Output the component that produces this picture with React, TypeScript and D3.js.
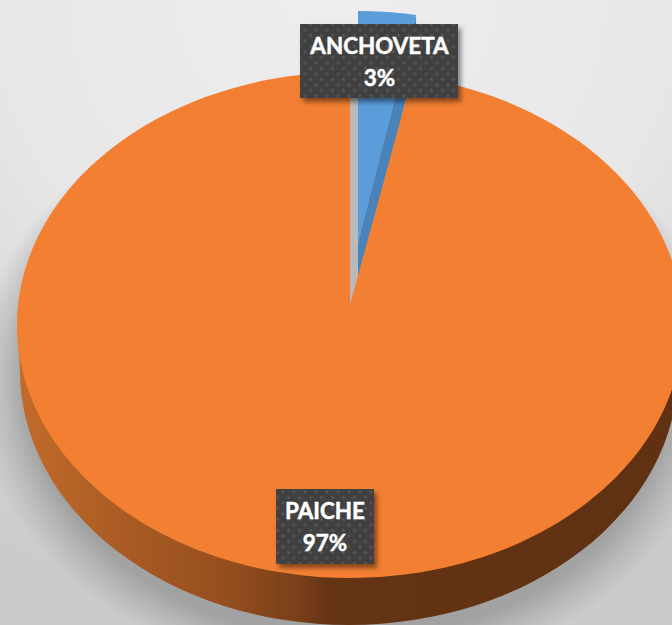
import React from "react";
import * as d3 from "d3";

const categories = ["ANCHOVETA", "PAICHE"];
const shares = [3, 97];

const W = 672, H = 625;
const top = { cx: 350, cy: 325, rx: 333, ry: 253, apexY: 305 };
const bottom = { cx: 349, cy: 371, rx: 329, ry: 254 };
const blue = { cx: 358, cy: 243, rx: 310, ry: 232, depth: 45 };

const pct = d3.format(".0f");
const arcs = d3.pie<number>().sort(null).value((d) => d)(shares);

const pt = (e: { cx: number; cy: number; rx: number; ry: number }, a: number): [number, number] => [
  e.cx + e.rx * Math.sin(a),
  e.cy - e.ry * Math.cos(a),
];

function wedge(e: { cx: number; cy: number; rx: number; ry: number }, apexY: number, a0: number, a1: number) {
  const [x0, y0] = pt(e, a0);
  const [x1, y1] = pt(e, a1);
  const large = a1 - a0 > Math.PI ? 1 : 0;
  return `M${e.cx},${apexY}L${x0},${y0}A${e.rx},${e.ry} 0 ${large} 1 ${x1},${y1}Z`;
}

const sideStops: [number, string][] = [
  [0, "#c26c2b"],
  [0.17, "#a85a23"],
  [0.3, "#98501f"],
  [0.42, "#7a4018"],
  [0.47, "#643414"],
  [1, "#5f3112"],
];

function Label({ x, y, w, h, name, value, cx }: { x: number; y: number; w: number; h: number; name: string; value: number; cx: number }) {
  const textProps = {
    x: cx,
    textAnchor: "middle" as const,
    fontFamily: "Lato, sans-serif",
    fontWeight: 700,
    fontSize: 22.4,
    fill: "#fff",
    stroke: "#fff",
    strokeWidth: 0.5,
  };
  return (
    <g>
      <rect x={x} y={y} width={w} height={h} fill="#404040" filter="url(#labelShadow)" />
      <rect x={x} y={y} width={w} height={h} fill="url(#dots)" />
      <text {...textProps} y={y + 30}>{name}</text>
      <text {...textProps} y={y + 62}>{pct(value)}%</text>
    </g>
  );
}

export default function App() {
  const [anch, paiche] = arcs;
  const orange = wedge(top, top.apexY, paiche.startAngle, paiche.endAngle);
  const blueTop = wedge(blue, blue.cy, anch.startAngle, anch.endAngle);
  const [bx1, by1] = pt(blue, anch.endAngle);
  const blueSide = `M${blue.cx},${blue.cy}L${bx1},${by1}L${bx1},${by1 + blue.depth}L${blue.cx},${blue.cy + blue.depth}Z`;
  const side = `M${top.cx - top.rx},${top.cy}L${bottom.cx - bottom.rx},${bottom.cy}A${bottom.rx},${bottom.ry} 0 0 0 ${bottom.cx + bottom.rx},${bottom.cy}L${top.cx + top.rx},${top.cy}Z`;
  const gap = `M${top.cx},${top.apexY}L${top.cx},${top.cy - top.ry}L${blue.cx},${top.cy - top.ry}L${blue.cx},${blue.cy + blue.depth}Z`;
  return (
    <svg width={W} height={H} viewBox={`0 0 ${W} ${H}`} style={{ position: "absolute", left: 0, top: 0, display: "block" }}>
      <defs>
        <radialGradient id="bg" cx="0.5" cy="0" r="1">
          <stop offset="0" stopColor="#eeeeee" />
          <stop offset="0.5" stopColor="#e7e7e7" />
          <stop offset="0.7" stopColor="#dcdcdc" />
          <stop offset="1" stopColor="#cbcbcb" />
        </radialGradient>
        <linearGradient id="side" gradientUnits="userSpaceOnUse" x1={top.cx - top.rx} x2={top.cx + top.rx} y1="0" y2="0">
          {sideStops.map(([o, c]) => <stop key={o} offset={o} stopColor={c} />)}
        </linearGradient>
        <radialGradient id="pieShadow" cx="0.5" cy="0.5" r="0.5">
          <stop offset="0.86" stopColor="#a2a2a2" stopOpacity="1" />
          <stop offset="0.93" stopColor="#a2a2a2" stopOpacity="0.45" />
          <stop offset="1" stopColor="#a2a2a2" stopOpacity="0" />
        </radialGradient>
        <filter id="labelShadow" x="-10%" y="-10%" width="125%" height="130%">
          <feDropShadow dx="3" dy="4" stdDeviation="2.5" floodColor="#000" floodOpacity="0.45" />
        </filter>
        <radialGradient id="dot">
          <stop offset="0" stopColor="#5a5a5a" />
          <stop offset="1" stopColor="#5a5a5a" stopOpacity="0" />
        </radialGradient>
        <pattern id="dots" width="11" height="11" patternUnits="userSpaceOnUse">
          <circle cx="2.5" cy="2.5" r="2.5" fill="url(#dot)" />
          <circle cx="8" cy="8" r="2.5" fill="url(#dot)" />
        </pattern>
      </defs>
      <rect width={W} height={H} fill="url(#bg)" />
      <ellipse cx={bottom.cx} cy={bottom.cy + 10} rx={bottom.rx + 45} ry={bottom.ry + 45} fill="url(#pieShadow)" />
      <path d={gap} fill="#b9b9b9" />
      <path d={blueSide} fill="#4a83b9" />
      <path d={blueTop} fill="#5b9ddb" />
      <path d={side} fill="url(#side)" />
      <path d={orange} fill="#f38032" />
      <Label x={300} y={24} w={158} h={74} name={categories[0]} value={shares[0]} cx={379.5} />
      <Label x={276} y={489} w={98} h={75} name={categories[1]} value={shares[1]} cx={325} />
    </svg>
  );
}
